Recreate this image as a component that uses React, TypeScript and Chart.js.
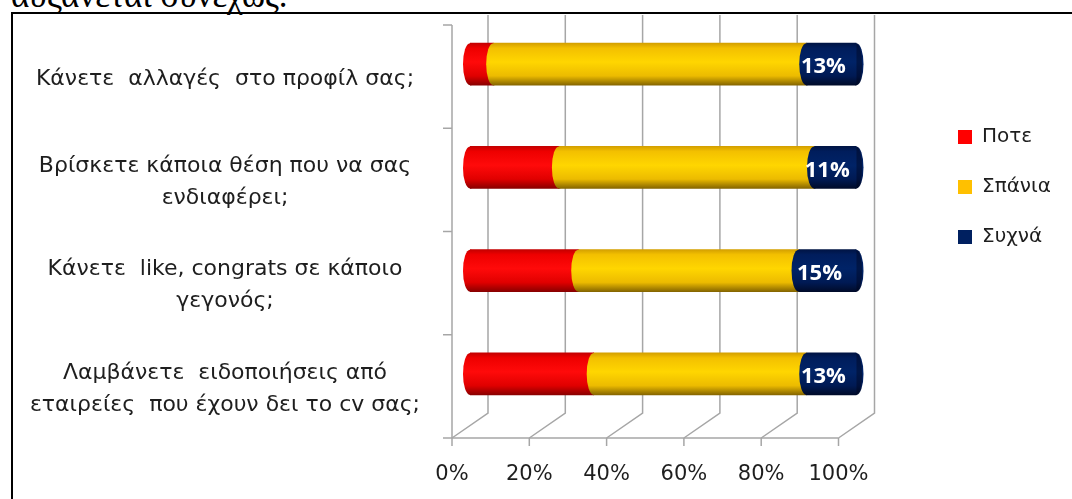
import React, { useEffect, useRef } from 'react';
import { Chart, registerables } from 'chart.js';

Chart.register(...registerables);

// ---------------- data ----------------
const categories: (string | string[])[] = [
  'Κάνετε  αλλαγές  στο προφίλ σας;',
  ['Βρίσκετε κάποια θέση που να σας', 'ενδιαφέρει;'],
  ['Κάνετε  like, congrats σε κάποιο', 'γεγονός;'],
  ['Λαμβάνετε  ειδοποιήσεις από', 'εταιρείες  που έχουν δει το cv σας;'],
];
const seriesNames = ['Ποτε', 'Σπάνια', 'Συχνά'];
const neverValues = [6, 23, 28, 32];
const rarelyValues = [81, 66, 57, 55];
const oftenValues = [13, 11, 15, 13];
const xTickLabels = ['0%', '20%', '40%', '60%', '80%', '100%'];
const labelledSeries = 2; // only "Συχνά" carries value labels

// ---------------- styles / layout ----------------
const W = 1072;
const H = 499;
const PLOT_LEFT = 470;
const PLOT_RIGHT = 856.5;
const PLOT_TOP = 12.5;
const PLOT_BOTTOM = 425.5;
const DX = 18; // depth offset (mid plane -> back wall)
const DY = 12.5;
const BAR_H = 42;
const CAP_RX = 7;
const TEXT = '#1e1e1e';
const GRID = '#a6a6a6';
const CAT_FONT = 'DejaVu Sans';
const CAT_SIZE = 22;
const LABEL_CENTER_X = 225;
const LEG_SIZE = 20;
const LEG_BOX = 14;
const LEG_PAD = 30;
const DUMMY_W = 71.5;

const solidColors = ['#ff0000', '#ffc000', '#002060'];
const gradientStops: [number, string][][] = [
  [[0, '#c40000'], [0.12, '#ee0000'], [0.45, '#ff0a0a'], [0.78, '#e00000'], [1, '#8a0000']],
  [[0, '#d4a000'], [0.12, '#f3c000'], [0.45, '#ffd600'], [0.78, '#ecbb00'], [1, '#866600']],
  [[0, '#001444'], [0.12, '#001d5c'], [0.45, '#002367'], [0.78, '#001a54'], [1, '#000b2a']],
];

function makeGrad(c: CanvasRenderingContext2D, y0: number, y1: number, k: number) {
  const g = c.createLinearGradient(0, y0, 0, y1);
  for (const [o, col] of gradientStops[k]) g.addColorStop(o, col);
  return g;
}

const cylinderPlugin = {
  id: 'cylinder3d',
  beforeDatasetsDraw(chart: any) {
    const { ctx, chartArea: ca, scales } = chart;
    const xs = scales.x;
    const ys = scales.y;
    ctx.save();
    ctx.strokeStyle = GRID;
    ctx.lineWidth = 1.5;
    xs.ticks.forEach((t: any) => {
      const px = xs.getPixelForValue(t.value);
      const bx = px + DX;
      const fx = px - DX;
      ctx.beginPath();
      ctx.moveTo(bx, Math.max(ca.top - DY, 15));
      ctx.lineTo(bx, ca.bottom - DY);
      ctx.lineTo(fx, ca.bottom + DY);
      ctx.stroke();
      ctx.beginPath();
      ctx.moveTo(fx, ca.bottom + DY);
      ctx.lineTo(fx, ca.bottom + DY + 8);
      ctx.stroke();
    });
    ctx.beginPath();
    ctx.moveTo(xs.getPixelForValue(xs.min) - DX, ca.bottom + DY);
    ctx.lineTo(xs.getPixelForValue(xs.max) - DX, ca.bottom + DY);
    ctx.stroke();
    const fyl = ca.left - DX;
    ctx.beginPath();
    ctx.moveTo(fyl, ca.top + DY);
    ctx.lineTo(fyl, ca.bottom + DY);
    ctx.stroke();
    for (let i = 0; i <= ys.ticks.length; i++) {
      const yy = ys.getPixelForValue(i - 0.5) + DY;
      ctx.beginPath();
      ctx.moveTo(fyl - 9, yy);
      ctx.lineTo(fyl, yy);
      ctx.stroke();
    }
    ctx.restore();
  },
  afterDatasetsDraw(chart: any) {
    const { ctx } = chart;
    const metas = chart.getSortedVisibleDatasetMetas();
    const last = metas.length - 1;
    ctx.save();
    metas.forEach((meta: any, mi: number) => {
      const k = meta.index;
      meta.data.forEach((bar: any) => {
        const { x: xe, y: yc, base, height } = bar.getProps(['x', 'y', 'base', 'height'], true);
        const h = height;
        const top = yc - h / 2;
        const grad = makeGrad(ctx, top, top + h, k);
        ctx.fillStyle = grad;
        // left (near) end of the cylinder segment
        ctx.beginPath();
        ctx.moveTo(base + 1.5, top + h);
        ctx.lineTo(base, top + h);
        ctx.ellipse(base, yc, CAP_RX, h / 2, 0, Math.PI / 2, Math.PI * 1.5);
        ctx.lineTo(base + 1.5, top);
        ctx.closePath();
        ctx.fill();
        if (mi === last) {
          ctx.beginPath();
          ctx.moveTo(xe - 1.5, top);
          ctx.lineTo(xe, top);
          ctx.ellipse(xe, yc, CAP_RX, h / 2, 0, -Math.PI / 2, Math.PI / 2);
          ctx.lineTo(xe - 1.5, top + h);
          ctx.closePath();
          ctx.fill();
          ctx.fillStyle = 'rgba(0,0,15,0.35)';
          ctx.beginPath();
          ctx.ellipse(xe, yc, CAP_RX * 0.8, h / 2 - 1, 0, -Math.PI / 2, Math.PI / 2);
          ctx.closePath();
          ctx.fill();
        }
      });
    });
    const meta = chart.getDatasetMeta(labelledSeries);
    const values = chart.data.datasets[labelledSeries].data;
    ctx.fillStyle = '#ffffff';
    ctx.font = 'bold 22px "Open Sans"';
    ctx.textAlign = 'center';
    ctx.textBaseline = 'middle';
    meta.data.forEach((bar: any, i: number) => {
      const { x: xe, y: yc, base } = bar.getProps(['x', 'y', 'base'], true);
      ctx.fillText(`${values[i]}%`, (base + xe) / 2 - 8, yc + 3);
    });
    ctx.restore();
  },
};

export default function App() {
  const ref = useRef<HTMLCanvasElement>(null);

  useEffect(() => {
    const canvas = ref.current;
    if (!canvas) return;

    const m = document.createElement('canvas').getContext('2d') as CanvasRenderingContext2D;
    m.font = `${LEG_SIZE}px "${CAT_FONT}"`;
    const legText = Math.max(...seriesNames.map((s) => m.measureText(s).width));
    const legendW = LEG_PAD + LEG_BOX + LEG_SIZE / 2 + legText + 10;
    m.font = `${CAT_SIZE}px "${CAT_FONT}"`;
    const widest = Math.max(
      ...categories.flatMap((c) => (Array.isArray(c) ? c : [c])).map((s) => m.measureText(s).width)
    );
    const yPad = PLOT_LEFT - LABEL_CENTER_X - widest / 2;
    const padRight = W - (PLOT_RIGHT + DUMMY_W + legendW);

    const seriesValues = [neverValues, rarelyValues, oftenValues];
    const datasets = seriesNames.map((name, k) => ({
      label: name,
      data: seriesValues[k],
      barThickness: BAR_H,
      borderWidth: 0,
      backgroundColor: (c: any) => {
        const ys = c.chart.scales?.y;
        if (!ys || c.dataIndex === undefined) return solidColors[k];
        const yc = ys.getPixelForValue(c.dataIndex);
        if (!isFinite(yc)) return solidColors[k];
        return makeGrad(c.chart.ctx, yc - BAR_H / 2, yc + BAR_H / 2, k);
      },
    }));

    const chart = new Chart(canvas, {
      type: 'bar',
      data: { labels: categories as any, datasets },
      plugins: [cylinderPlugin],
      options: {
        indexAxis: 'y',
        responsive: false,
        animation: false,
        devicePixelRatio: 1,
        layout: { padding: { top: PLOT_TOP, left: 0, bottom: 0, right: padRight } },
        scales: {
          x: {
            type: 'linear',
            position: 'bottom',
            stacked: true,
            min: 0,
            max: 100,
            grid: { display: false, drawTicks: false },
            border: { display: false },
            ticks: {
              stepSize: 20,
              autoSkip: false,
              maxRotation: 0,
              labelOffset: -DX,
              padding: 36,
              color: TEXT,
              font: { family: CAT_FONT, size: 21 },
              callback: (_v: any, i: number) => xTickLabels[i],
            },
            afterFit: (s: any) => {
              s.height = H - PLOT_BOTTOM;
              s.paddingLeft = 0;
              s.paddingRight = 0;
            },
          },
          y: {
            type: 'category',
            position: 'left',
            stacked: true,
            grid: { display: false, drawTicks: false },
            border: { display: false },
            ticks: {
              crossAlign: 'center',
              padding: yPad,
              labelOffset: 15,
              autoSkip: false,
              color: TEXT,
              font: { family: CAT_FONT, size: CAT_SIZE, lineHeight: 1.45 },
            },
            afterFit: (s: any) => {
              s.width = PLOT_LEFT;
              s.paddingTop = 0;
              s.paddingBottom = 0;
            },
          },
          y2: {
            type: 'linear',
            position: 'right',
            display: true,
            grid: { display: false, drawTicks: false },
            border: { display: false },
            ticks: { display: false },
            afterFit: (s: any) => {
              s.width = DUMMY_W;
              s.paddingTop = 0;
              s.paddingBottom = 0;
            },
          },
        },
        plugins: {
          tooltip: { enabled: false },
          legend: {
            position: 'right',
            align: 'start',
            title: { display: true, text: '', font: { size: 10, lineHeight: 1 }, padding: { top: 0, bottom: 74.5 } },
            labels: {
              boxWidth: LEG_BOX,
              boxHeight: LEG_BOX,
              padding: LEG_PAD,
              color: TEXT,
              font: { family: CAT_FONT, size: LEG_SIZE },
              generateLabels: (ch: any) =>
                ch.data.datasets.map((ds: any, i: number) => ({
                  text: ds.label,
                  fillStyle: solidColors[i],
                  strokeStyle: solidColors[i],
                  fontColor: TEXT,
                  lineWidth: 0,
                  hidden: false,
                  datasetIndex: i,
                })),
            },
          },
        },
      } as any,
    });
    return () => chart.destroy();
  }, []);

  return (
    <div
      style={{
        position: 'absolute',
        left: 0,
        top: 0,
        width: W,
        height: H,
        overflow: 'hidden',
        background: '#ffffff',
      }}
    >
      <div
        style={{
          position: 'absolute',
          left: 11,
          top: -22,
          fontFamily: '"Liberation Serif", serif',
          fontSize: 35,
          lineHeight: '35px',
          whiteSpace: 'nowrap',
          color: '#000',
        }}
      >
        αυξάνεται συνεχώς.
      </div>
      <div
        style={{
          position: 'absolute',
          left: 11,
          top: 12,
          width: 1200,
          height: 700,
          border: '2px solid #000',
          boxSizing: 'border-box',
        }}
      />
      <canvas
        ref={ref}
        width={W}
        height={H}
        style={{ position: 'absolute', left: 0, top: 0, width: W, height: H }}
      />
    </div>
  );
}
